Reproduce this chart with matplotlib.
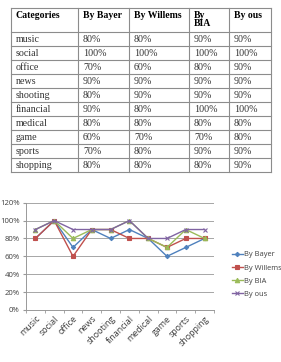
import matplotlib
matplotlib.use("Agg")
import matplotlib.pyplot as plt
import numpy as np

categories = ["music", "social", "office", "news", "shooting",
              "financial", "medical", "game", "sports", "shopping"]
series_names = ["By Bayer", "By Willems", "By BIA", "By ous"]
bayer = [80, 100, 70, 90, 80, 90, 80, 60, 70, 80]
willems = [80, 100, 60, 90, 90, 80, 80, 70, 80, 80]
bia = [90, 100, 80, 90, 90, 100, 80, 70, 90, 80]
ous = [90, 100, 90, 90, 90, 100, 80, 80, 90, 90]
yticks = [0, 20, 40, 60, 80, 100, 120]

W, H = 281, 362
fig = plt.figure(figsize=(W / 100, H / 100), dpi=100)

# ---- table ---------------------------------------------------------------
col_w = np.array([67, 51, 60, 40, 42], float)
header = ["Categories", "By Bayer", "By Willems", "By\nBIA", "By ous"]
rows = [[c] + [f"{v}%" for v in vals]
        for c, vals in zip(categories, zip(bayer, willems, bia, ous))]

tx0, ty0, tx1, ty1 = 11, 8, 271, 172
tax = fig.add_axes([tx0 / W, 1 - ty1 / H, (tx1 - tx0) / W, (ty1 - ty0) / H])
tax.set_xlim(0, col_w.sum()); tax.set_ylim(ty1 - ty0, 0); tax.axis("off")
xs = np.concatenate([[0], np.cumsum(col_w)])
ys = [0, 24] + [24 + 14 * (i + 1) for i in range(len(rows))]
lc = "#8c8c8c"
for x in xs:
    tax.plot([x, x], [0, ys[-1]], color=lc, lw=0.8, clip_on=False)
for y in ys:
    tax.plot([0, xs[-1]], [y, y], color=lc, lw=0.8, clip_on=False)
serif = "Liberation Serif"
for j, h in enumerate(header):
    tax.text(xs[j] + 5, 2.5, h, ha="left", va="top", fontsize=7,
             fontweight="bold", family=serif, linespacing=1.0)
for i, r in enumerate(rows):
    yc = (ys[i + 1] + ys[i + 2]) / 2
    for j, t in enumerate(r):
        tax.text(xs[j] + 5, yc + 0.5, t, ha="left", va="center",
                 fontsize=7.2, family=serif, color="#333333")

# ---- line chart ----------------------------------------------------------
ax = fig.add_axes([26 / W, 1 - 310 / H, (214 - 26) / W, (310 - 202.7) / H])
x = np.arange(len(categories))
styles = [("#4F81BD", "D", 2.2), ("#C0504D", "s", 3.5),
          ("#9BBB59", "^", 3.2), ("#8064A2", "x", 3.2)]
for name, vals, (c, m, ms) in zip(series_names, [bayer, willems, bia, ous], styles):
    ax.plot(x, vals, color=c, marker=m, ms=ms, lw=1.0, label=name,
            markeredgewidth=0.8)

ax.set_xlim(-0.5, len(categories) - 0.5)
ax.set_ylim(0, 120)
ax.set_yticks(yticks)
ax.set_yticklabels([f"{v}%" for v in yticks], fontsize=5.6, color="#404040",
                   family="Open Sans")
ax.set_xticks(x)
ax.set_xticklabels(categories, rotation=45, ha="right", rotation_mode="anchor",
                   fontsize=6.4, color="#404040", family="Open Sans")
ax.set_xticks(np.arange(-0.5, len(categories)), minor=True)
ax.tick_params(axis="x", which="major", length=0, pad=3)
ax.tick_params(axis="x", which="minor", length=2.5, color="#999999")
ax.tick_params(axis="y", length=2.5, color="#999999", pad=2)
ax.grid(axis="y", color="#a6a6a6", lw=0.7)
ax.set_axisbelow(True)
for s in ["top", "right"]:
    ax.spines[s].set_visible(False)
for s in ["left", "bottom"]:
    ax.spines[s].set_color("#999999"); ax.spines[s].set_linewidth(0.7)

leg = fig.legend(loc="upper left", bbox_to_anchor=(229 / W, 1 - 248 / H),
                 frameon=False, handlelength=1.4,
                 handletextpad=0.2, labelspacing=0.8, borderaxespad=0,
                 prop={"family": "Open Sans", "size": 5.4})
for t in leg.get_texts():
    t.set_color("#404040")

fig.savefig("out.png", dpi=100)
